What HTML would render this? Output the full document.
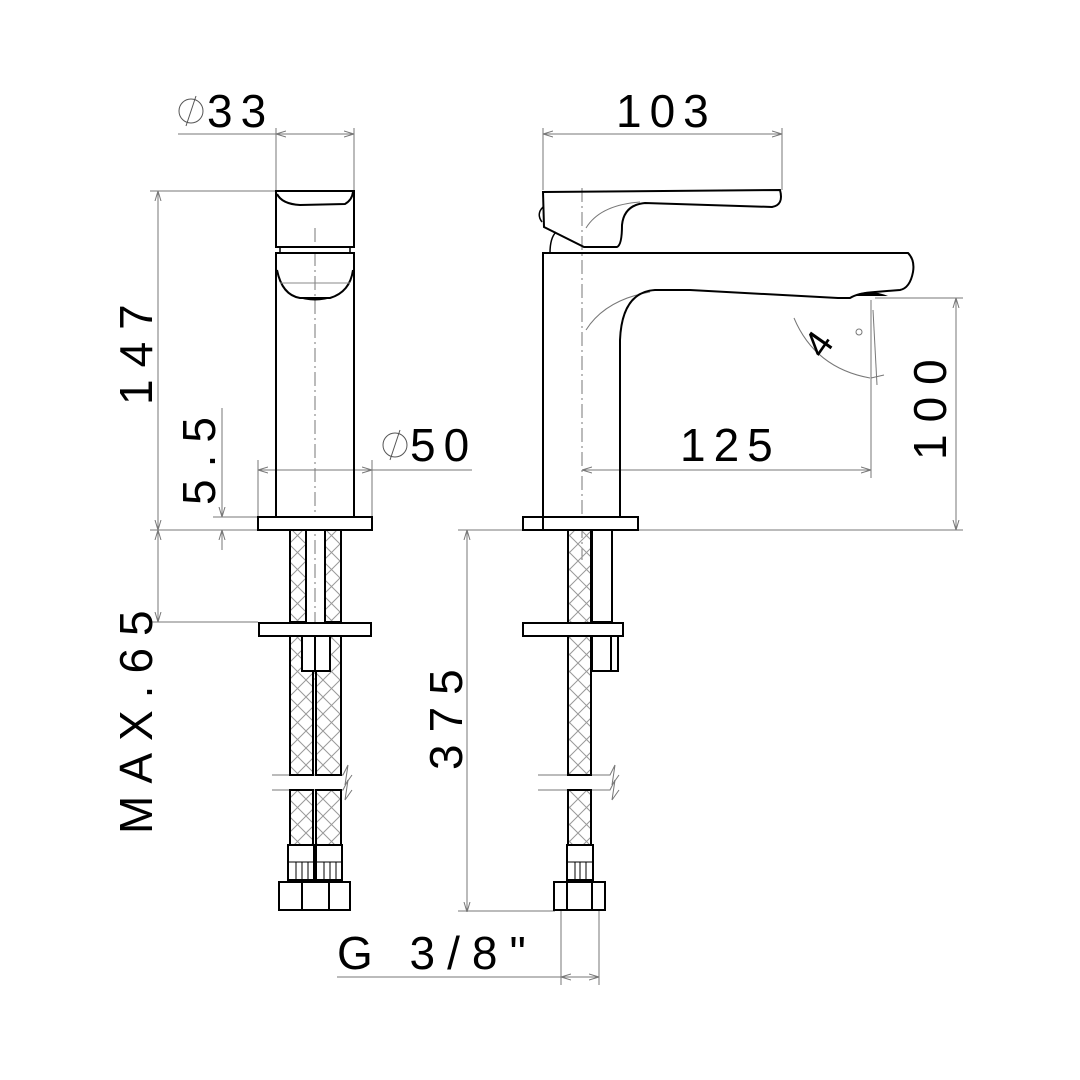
<!DOCTYPE html>
<html><head><meta charset="utf-8"><style>
html,body{margin:0;padding:0;background:#fff}
svg{display:block}
text{font-family:"Liberation Sans",sans-serif;fill:#000}
</style></head><body>
<svg width="1080" height="1080" viewBox="0 0 1080 1080" xmlns="http://www.w3.org/2000/svg">
<defs>
<pattern id="x" width="17" height="34" patternUnits="userSpaceOnUse">
<path d="M0 0 L17 17 L0 34 M17 0 L0 17 L17 34" stroke="#999" stroke-width="1" fill="none"/>
</pattern>
<marker id="a" markerWidth="10" markerHeight="8" refX="10" refY="4" orient="auto-start-reverse" markerUnits="userSpaceOnUse">
<path d="M0 1 L10 4 L0 7" fill="none" stroke="#777" stroke-width="1"/>
</marker>
</defs>
<g stroke="#777" stroke-width="1" fill="none">
<line x1="276" y1="128" x2="276" y2="190"/><line x1="354" y1="128" x2="354" y2="190"/>
<line x1="178" y1="134" x2="276" y2="134"/>
<line x1="276" y1="134" x2="354" y2="134" marker-start="url(#a)" marker-end="url(#a)"/>
<line x1="150" y1="191" x2="276" y2="191"/>
<line x1="158" y1="191" x2="158" y2="530" marker-start="url(#a)" marker-end="url(#a)"/>
<line x1="150" y1="530" x2="258" y2="530"/>
<line x1="158" y1="530" x2="158" y2="622" marker-start="url(#a)" marker-end="url(#a)"/>
<line x1="150" y1="622" x2="258" y2="622"/>
<line x1="222" y1="408" x2="222" y2="517" marker-end="url(#a)"/>
<line x1="222" y1="550" x2="222" y2="530" marker-end="url(#a)"/>
<line x1="213" y1="517" x2="258" y2="517"/>
<line x1="258" y1="460" x2="258" y2="517"/><line x1="372" y1="460" x2="372" y2="517"/>
<line x1="258" y1="470" x2="372" y2="470" marker-start="url(#a)" marker-end="url(#a)"/>
<line x1="372" y1="470" x2="472" y2="470"/>
<line x1="543" y1="128" x2="543" y2="190"/><line x1="782" y1="128" x2="782" y2="190"/>
<line x1="543" y1="134" x2="782" y2="134" marker-start="url(#a)" marker-end="url(#a)"/>
<line x1="582" y1="470" x2="871" y2="470" marker-start="url(#a)" marker-end="url(#a)"/>
<line x1="871" y1="300" x2="871" y2="478"/>
<line x1="875" y1="298" x2="963" y2="298"/>
<line x1="630" y1="530" x2="963" y2="530"/>
<line x1="956" y1="298" x2="956" y2="530" marker-start="url(#a)" marker-end="url(#a)"/>
<line x1="458" y1="530" x2="523" y2="530"/>
<line x1="467" y1="530" x2="467" y2="912" marker-start="url(#a)" marker-end="url(#a)"/>
<line x1="458" y1="911" x2="555" y2="911"/>
<line x1="561" y1="905" x2="561" y2="985"/><line x1="599" y1="905" x2="599" y2="985"/>
<line x1="337" y1="977" x2="561" y2="977"/>
<line x1="561" y1="977" x2="599" y2="977" marker-start="url(#a)" marker-end="url(#a)"/>
<path d="M794 318 Q815 368 870 378"/>
<line x1="871" y1="378" x2="884" y2="375"/>
<line x1="873" y1="310" x2="877" y2="385"/>
<circle cx="859" cy="332" r="3"/>
<line x1="315" y1="228" x2="315" y2="680" stroke-dasharray="14 4 2 4"/>
<line x1="582" y1="188" x2="582" y2="560" stroke-dasharray="14 4 2 4"/>
<path d="M586 228 Q600 205 640 202"/>
<path d="M586 330 Q605 300 650 292"/>
<path d="M272 775 H343 L348 765 L345 785 L352 775"/><path d="M272 790 H343 L348 780 L345 800 L352 790"/>
<path d="M538 775 H610 L615 765 L612 785 L619 775"/><path d="M538 790 H610 L615 780 L612 800 L619 790"/>
</g>
<g stroke="#000" stroke-width="2">
<rect x="290" y="530" width="16" height="92" fill="url(#x)"/>
<rect x="325" y="530" width="16" height="92" fill="url(#x)"/>
<rect x="290" y="636" width="23" height="139" fill="url(#x)"/>
<rect x="316" y="636" width="25" height="139" fill="url(#x)"/>
<rect x="290" y="790" width="23" height="55" fill="url(#x)"/>
<rect x="316" y="790" width="25" height="55" fill="url(#x)"/>
<rect x="568" y="530" width="23" height="245" fill="url(#x)"/>
<rect x="568" y="790" width="23" height="55" fill="url(#x)"/>
</g>
<g stroke="#000" stroke-width="2" fill="#fff">
<rect x="302" y="636" width="28" height="35"/>
<line x1="315" y1="636" x2="315" y2="671"/>
<rect x="288" y="845" width="26" height="35"/><rect x="316" y="845" width="26" height="35"/>
<rect x="279" y="882" width="71" height="28"/>
<line x1="302" y1="882" x2="302" y2="910"/><line x1="329" y1="882" x2="329" y2="910"/>
<rect x="592" y="530" width="20" height="92"/>
<rect x="592" y="636" width="26" height="35"/><line x1="611" y1="636" x2="611" y2="671"/>
<rect x="567" y="845" width="26" height="35"/>
<rect x="554" y="882" width="51" height="28"/>
<line x1="567" y1="882" x2="567" y2="910"/><line x1="592" y1="882" x2="592" y2="910"/>
<rect x="258" y="517" width="114" height="13"/>
<rect x="259" y="623" width="112" height="13"/>
<rect x="523" y="517" width="115" height="13"/>
<rect x="523" y="623" width="100" height="13"/>
</g>
<g stroke="#000" stroke-width="1" fill="none">
<path d="M289 862 H313 M296 862 V879 M302 862 V879 M308 862 V879 M317 862 H341 M324 862 V879 M330 862 V879 M336 862 V879"/>
<path d="M568 862 H592 M575 862 V879 M580 862 V879 M586 862 V879"/>
</g>
<g stroke="#000" stroke-width="2" fill="none">
<path d="M276 517 V253 H354 V517"/>
<path d="M276 247 V191 H354 V247 Z"/>
<path d="M277 194 Q282 204 300 205 L345 204 Q352 200 353 192"/>
<rect x="280" y="247" width="70" height="6" stroke-width="1.5"/>
<path d="M277 270 Q282 295 300 298 H330 Q350 292 353 270" />
</g>
<path d="M296 297 Q315 304 334 297 Z" fill="#000"/>
<line x1="280" y1="283" x2="350" y2="283" stroke="#888" stroke-width="1"/>
<g stroke="#000" stroke-width="2" fill="none">
<path d="M543 530 V253 H908 Q915 260 913 272 Q910 288 900 290 L875 292 Q858 293 850 298 L838 298 L690 290 H655 Q622 292 620 340 V517"/>
<path d="M543 192 L780 190 Q784 205 772 207 L645 203 Q624 205 622 225 Q622 245 617 247 L584 247 L544 227 Z"/>
<path d="M550 253 Q550 238 556 232" stroke-width="1.5"/>
<path d="M543 207 Q536 214 542 222" stroke-width="1.5"/>
</g>
<path d="M853 296 Q868 288 888 296 Z" fill="#000"/>
<g font-size="46">
<text x="207" y="127" letter-spacing="8">33</text>
<text x="410" y="461" letter-spacing="8">50</text>
<text x="616" y="127" letter-spacing="8">103</text>
<text x="680" y="461" letter-spacing="8">125</text>
<text x="337" y="969" letter-spacing="12">G  3/8"</text>
<text transform="translate(152,405) rotate(-90)" letter-spacing="12">147</text>
<text transform="translate(215,505) rotate(-90)" letter-spacing="12">5.5</text>
<text transform="translate(152,834) rotate(-90)" letter-spacing="12">MAX.65</text>
<text transform="translate(462,770) rotate(-90)" letter-spacing="12">375</text>
<text transform="translate(946,460) rotate(-90)" letter-spacing="12">100</text>
<text transform="translate(823,360) rotate(-55)" font-size="38">4</text>
</g>
<g stroke="#555" stroke-width="1" fill="none">
<circle cx="191" cy="111" r="12"/><line x1="186" y1="126" x2="196" y2="96"/>
<circle cx="395" cy="445" r="12"/><line x1="390" y1="460" x2="400" y2="430"/>
</g>
</svg>
</body></html>
